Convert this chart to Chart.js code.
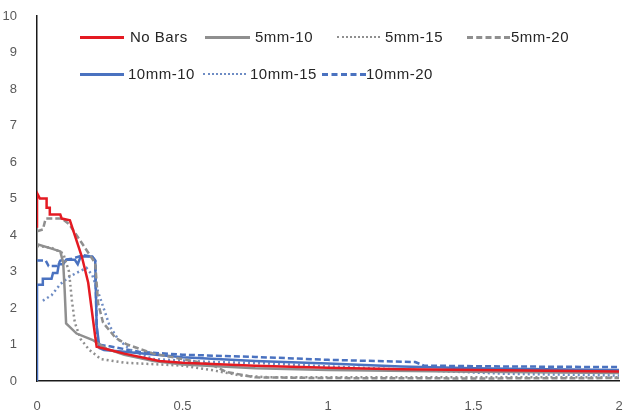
<!DOCTYPE html>
<html>
<head>
<meta charset="utf-8">
<script src="https://cdn.jsdelivr.net/npm/chart.js@4/dist/chart.umd.min.js"></script>
<style>
  html, body { margin: 0; padding: 0; background: #fff; }
  #wrap { position: relative; width: 623px; height: 415px; }
  #legend { position: absolute; left: 0; top: 0; font-family: "Liberation Sans", Arial, sans-serif; font-size: 15px; color: #262626; letter-spacing: 0.5px; }
  .item { position: absolute; white-space: nowrap; }
  .swatch { position: absolute; height: 0; }
</style>
</head>
<body>
<div id="wrap">
  <canvas id="chart" width="623" height="415"></canvas>
  <div id="legend"></div>
</div>
<script>
// series: x (time) and y values
var noBarsX = [0, 0, 0.01, 0.033, 0.033, 0.044, 0.044, 0.08, 0.085, 0.113, 0.154, 0.176, 0.2, 0.205, 0.25, 0.3, 0.42, 0.5, 0.75, 1.0, 1.25, 1.5, 1.75, 2.0];
var noBarsY = [4.2, 5.15, 5.0, 5.0, 4.75, 4.75, 4.56, 4.56, 4.45, 4.4, 3.41, 2.69, 1.22, 0.94, 0.85, 0.75, 0.55, 0.5, 0.42, 0.36, 0.32, 0.3, 0.28, 0.26];

var mm5_10X = [0, 0.045, 0.08, 0.09, 0.095, 0.1, 0.136, 0.19, 0.24, 0.3, 0.4, 0.5, 0.75, 1.0, 1.5, 2.0];
var mm5_10Y = [3.75, 3.64, 3.55, 3.24, 2.5, 1.58, 1.3, 1.13, 0.88, 0.72, 0.55, 0.45, 0.35, 0.3, 0.25, 0.22];

var mm5_15X = [0, 0.05, 0.09, 0.11, 0.12, 0.13, 0.15, 0.18, 0.22, 0.3, 0.5, 0.6, 0.7, 0.8, 1.0, 1.5, 2.0];
var mm5_15Y = [3.7, 3.65, 3.5, 3.0, 2.2, 1.6, 1.15, 0.85, 0.6, 0.5, 0.42, 0.3, 0.15, 0.1, 0.1, 0.1, 0.1];

var mm5_20X = [0, 0.02, 0.03, 0.085, 0.11, 0.154, 0.2, 0.21, 0.227, 0.27, 0.31, 0.4, 0.5, 0.6, 0.65, 0.75, 1.0, 1.5, 2.0];
var mm5_20Y = [4.1, 4.15, 4.45, 4.45, 4.3, 3.78, 3.23, 2.13, 1.6, 1.18, 1.0, 0.75, 0.6, 0.45, 0.25, 0.1, 0.08, 0.07, 0.08];

var mm10_10X = [0, 0, 0.02, 0.02, 0.05, 0.055, 0.07, 0.075, 0.09, 0.1, 0.13, 0.14, 0.15, 0.19, 0.2, 0.205, 0.215, 0.23, 0.3, 0.5, 0.75, 1.0, 1.25, 1.5, 1.75, 2.0];
var mm10_10Y = [0, 2.64, 2.64, 2.8, 2.8, 2.96, 2.96, 3.2, 3.2, 3.32, 3.32, 3.2, 3.41, 3.41, 3.3, 1.5, 0.9, 0.85, 0.8, 0.65, 0.55, 0.48, 0.4, 0.35, 0.32, 0.3];

var mm10_15X = [0.02, 0.05, 0.08, 0.11, 0.145, 0.17, 0.19, 0.216, 0.25, 0.28, 0.33, 0.4, 0.6, 0.8, 1.0, 1.3, 1.6, 2.0];
var mm10_15Y = [2.2, 2.35, 2.65, 2.85, 3.0, 3.1, 2.9, 2.3, 1.5, 1.13, 0.8, 0.6, 0.52, 0.48, 0.4, 0.3, 0.2, 0.15];

var mm10_20X = [0, 0.03, 0.04, 0.07, 0.08, 0.12, 0.16, 0.19, 0.2, 0.205, 0.21, 0.25, 0.35, 0.5, 0.75, 1.0, 1.3, 1.33, 1.6, 2.0];
var mm10_20Y = [3.3, 3.3, 3.15, 3.15, 3.3, 3.35, 3.45, 3.4, 3.3, 1.5, 1.0, 0.95, 0.8, 0.72, 0.66, 0.58, 0.52, 0.42, 0.4, 0.38];

var xTicks = [0, 0.5, 1, 1.5, 2];
var yMax = 10;

var red = '#e41a22', gray = '#8f8f8f', blue = '#4a72c0', blueDot = '#6e8cc4';

function pts(xs, ys) {
  return xs.map(function (x, i) { return { x: x, y: ys[i] }; });
}

var series = [
  { label: 'No Bars', data: pts(noBarsX, noBarsY), color: red, dash: [], w: 2.5 },
  { label: '5mm-10', data: pts(mm5_10X, mm5_10Y), color: gray, dash: [], w: 2.5 },
  { label: '5mm-15', data: pts(mm5_15X, mm5_15Y), color: gray, dash: [2, 3], w: 2.5 },
  { label: '5mm-20', data: pts(mm5_20X, mm5_20Y), color: gray, dash: [6, 3], w: 2.5 },
  { label: '10mm-10', data: pts(mm10_10X, mm10_10Y), color: blue, dash: [], w: 2.5 },
  { label: '10mm-15', data: pts(mm10_15X, mm10_15Y), color: blueDot, dash: [2, 3], w: 2.5 },
  { label: '10mm-20', data: pts(mm10_20X, mm10_20Y), color: blue, dash: [6, 3], w: 2.5 }
];

var datasets = series.map(function (s) {
  return {
    label: s.label, data: s.data, showLine: true,
    borderColor: s.color, backgroundColor: s.color,
    borderWidth: s.w, borderDash: s.dash, pointRadius: 0, tension: 0
  };
});

new Chart(document.getElementById('chart'), {
  type: 'scatter',
  data: { datasets: datasets },
  options: {
    responsive: false,
    animation: false,
    layout: { padding: { top: 16, right: 4, left: 0, bottom: 0 } },
    plugins: { legend: { display: false }, tooltip: { enabled: false } },
    scales: {
      x: {
        type: 'linear', min: 0, max: 2,
        afterBuildTicks: function (s) { s.ticks = xTicks.map(function (v) { return { value: v }; }); },
        grid: { display: false },
        border: { display: true, color: '#1a1a1a', width: 1.5 },
        ticks: { color: '#595959', padding: 10, font: { family: 'Liberation Sans', size: 13 },
          callback: function (v) { return String(v); } },
        afterFit: function (s) { s.height = 34; s.paddingRight = 0; s.paddingLeft = 0; }
      },
      y: {
        min: 0, max: yMax,
        ticks: { stepSize: 1, color: '#595959', padding: 12, font: { family: 'Liberation Sans', size: 13 } },
        grid: { display: false },
        border: { display: true, color: '#1a1a1a', width: 1.5 },
        afterFit: function (s) { s.width = 37; s.paddingTop = 0; s.paddingBottom = 0; }
      }
    }
  }
});

// legend drawn as html text inside the plot
var legendRows = [
  [[80, 44, 130, 0], [205, 45, 255, 1], [337, 43, 385, 2], [467, 43, 511, 3]],
  [[80, 44, 128, 4], [203, 43, 250, 5], [322, 44, 366, 6]]
];
var rowY = [37, 74];
var lg = document.getElementById('legend');
legendRows.forEach(function (row, r) {
  row.forEach(function (it) {
    var s = series[it[3]];
    var sw = document.createElement('div');
    sw.className = 'swatch';
    var style = s.dash.length === 0 ? 'solid' : (s.dash[0] < 4 ? 'dotted' : 'dashed');
    sw.style.cssText = 'left:' + it[0] + 'px;top:' + (rowY[r] - 1) + 'px;width:' + it[1] + 'px;border-top:' + (style === 'dotted' ? 2 : 3) + 'px ' + style + ' ' + s.color + ';';
    lg.appendChild(sw);
    var t = document.createElement('div');
    t.className = 'item';
    t.textContent = s.label;
    t.style.left = it[2] + 'px';
    t.style.top = (rowY[r] - 9) + 'px';
    lg.appendChild(t);
  });
});
</script>
</body>
</html>
